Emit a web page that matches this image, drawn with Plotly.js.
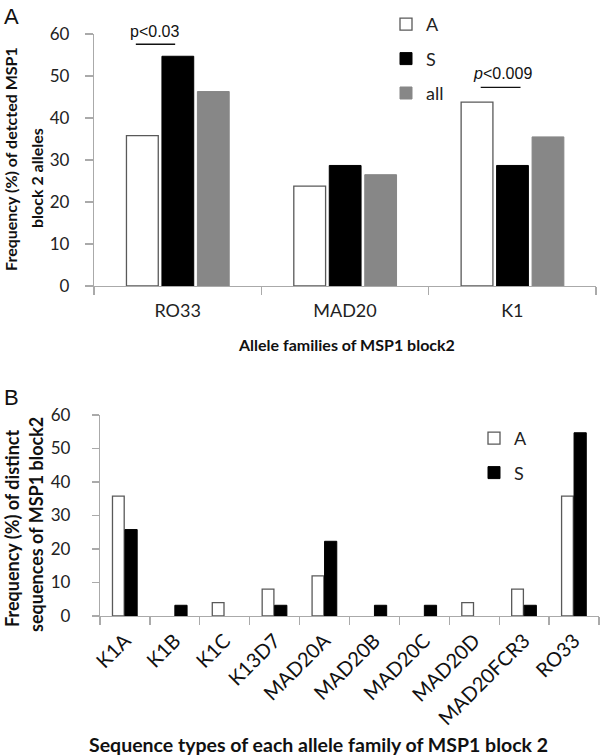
<!DOCTYPE html>
<html>
<head>
<meta charset="utf-8">
<script src="https://cdn.plot.ly/plotly-3.0.1.min.js"></script>
<style>html,body{margin:0;padding:0;background:#fff;}#chart{width:600px;height:756px;}</style>
</head>
<body>
<div id="chart"></div>
<script>
// Panel A data
const familiesA = ["RO33", "MAD20", "K1"];
const valuesA_A = [35.8, 23.8, 43.8];
const valuesA_S = [54.7, 28.7, 28.7];
const valuesA_all = [46.3, 26.5, 35.5];

// Panel B data
const typesB = ["K1A", "K1B", "K1C", "K13D7", "MAD20A", "MAD20B", "MAD20C", "MAD20D", "MAD20FCR3", "RO33"];
const valuesB_A = [35.8, 0, 4, 8, 12, 0, 0, 4, 8, 35.8];
const valuesB_S = [25.8, 3.2, 0, 3.2, 22.3, 3.2, 3.2, 0, 3.2, 54.7];

const yTicks = [0, 10, 20, 30, 40, 50, 60];

const FONT = "Lato, 'Open Sans', sans-serif";
const ARIAL = "'Liberation Sans', Arial, sans-serif";
const lineCol = "#595959";
const axisCol = "#aaaaaa";
const noZero = arr => arr.map(v => (v === 0 ? null : v));

const traces = [
  {type: "bar", name: "A", x: familiesA, y: valuesA_A, xaxis: "x", yaxis: "y", width: 0.19, offset: -0.306,
   marker: {color: "#fff", line: {color: lineCol, width: 1.3}}, legend: "legend", legendgroup: "a1"},
  {type: "bar", name: "S", x: familiesA, y: valuesA_S, xaxis: "x", yaxis: "y", width: 0.19, offset: -0.094,
   marker: {color: "#000", line: {color: "#000", width: 1}}, legend: "legend", legendgroup: "a2"},
  {type: "bar", name: "all", x: familiesA, y: valuesA_all, xaxis: "x", yaxis: "y", width: 0.19, offset: 0.118,
   marker: {color: "#878787", line: {color: "#878787", width: 1}}, legend: "legend", legendgroup: "a3"},
  {type: "bar", name: "A", x: typesB, y: noZero(valuesB_A), xaxis: "x2", yaxis: "y2", width: 0.235, offset: -0.25,
   marker: {color: "#fff", line: {color: lineCol, width: 1.3}}, legend: "legend2", legendgroup: "b1"},
  {type: "bar", name: "S", x: typesB, y: noZero(valuesB_S), xaxis: "x2", yaxis: "y2", width: 0.245, offset: 0,
   marker: {color: "#000", line: {color: "#000", width: 1}}, legend: "legend2", legendgroup: "b2"}
];

const axCommon = {
  showgrid: false, zeroline: false, showline: true, linecolor: axisCol, linewidth: 1.2,
  ticks: "outside", tickcolor: axisCol, tickwidth: 1.2
};
const titleFont = (s) => ({family: FONT, size: s, color: "#111"});

const layout = {
  width: 600, height: 756,
  margin: {l: 0, r: 0, t: 0, b: 0},
  paper_bgcolor: "#fff", plot_bgcolor: "#fff",
  font: {family: FONT, color: "#222"},
  barmode: "group",
  showlegend: true,
  xaxis: Object.assign({}, axCommon, {
    domain: [94/600, 596/600], anchor: "y", tickson: "boundaries", ticklen: 8, ticklabelstandoff: 8,
    tickfont: {family: FONT, size: 18, color: "#222"}
  }),
  yaxis: Object.assign({}, axCommon, {
    domain: [1 - 286/756, 1 - 34/756], anchor: "x", range: [0, 60], tickvals: yTicks, ticklen: 8, ticklabelstandoff: 12,
    tickfont: {family: FONT, size: 17, color: "#222"}
  }),
  xaxis2: Object.assign({}, axCommon, {
    domain: [100/600, 599/600], anchor: "y2", tickson: "boundaries", ticklen: 8, tickangle: -45, ticklabelstandoff: 4,
    tickfont: {family: FONT, size: 20, color: "#111"}
  }),
  yaxis2: Object.assign({}, axCommon, {
    domain: [1 - 616/756, 1 - 415/756], anchor: "x2", range: [0, 60], tickvals: yTicks, ticklen: 7, ticklabelstandoff: 18,
    tickfont: {family: FONT, size: 17, color: "#222"}
  }),
  legend: {x: 386/600, y: 1 - 6/756, xanchor: "left", yanchor: "top", bgcolor: "rgba(0,0,0,0)",
    font: {family: FONT, size: 18, color: "#222"}, tracegroupgap: 8, itemwidth: 30},
  legend2: {x: 474/600, y: 1 - 420/756, xanchor: "left", yanchor: "top", bgcolor: "rgba(0,0,0,0)",
    font: {family: FONT, size: 18, color: "#222"}, tracegroupgap: 8, itemwidth: 30},
  annotations: [
    {text: "A", xref: "paper", yref: "paper", x: 2/600, y: 1 - 2/756, xanchor: "left", yanchor: "top", showarrow: false,
     font: {family: ARIAL, size: 22, color: "#111"}},
    {text: "B", xref: "paper", yref: "paper", x: 2/600, y: 1 - 383/756, xanchor: "left", yanchor: "top", showarrow: false,
     font: {family: ARIAL, size: 22, color: "#111"}},
    {text: "p<0.03", xref: "x", yref: "paper", x: -0.137, y: 1 - 31/756, xanchor: "center", yanchor: "middle", showarrow: false,
     font: {family: ARIAL, size: 16, color: "#111"}},
    {text: "<i>p</i><0.009", xref: "x", yref: "y", x: 1.94, y: 50.7, xanchor: "center", yanchor: "middle", showarrow: false,
     font: {family: ARIAL, size: 16, color: "#111"}},
    // axis titles
    {text: "<b>Frequency (%) of detcted MSP1</b>", xref: "paper", yref: "paper", x: 10/600, y: 1 - 159/756,
     xanchor: "center", yanchor: "middle", textangle: -90, showarrow: false, font: titleFont(16)},
    {text: "<b>block 2 alleles</b>", xref: "paper", yref: "paper", x: 36/600, y: 1 - 178/756,
     xanchor: "center", yanchor: "middle", textangle: -90, showarrow: false, font: titleFont(16)},
    {text: "<b>Allele families of MSP1 block2</b>", xref: "paper", yref: "paper", x: 346/600, y: 1 - 345/756,
     xanchor: "center", yanchor: "middle", showarrow: false, font: titleFont(16)},
    {text: "<b>Frequency (%) of distinct</b>", xref: "paper", yref: "paper", x: 12/600, y: 1 - 529/756,
     xanchor: "center", yanchor: "middle", textangle: -90, showarrow: false, font: titleFont(18)},
    {text: "<b>sequences of MSP1 block2</b>", xref: "paper", yref: "paper", x: 36/600, y: 1 - 525/756,
     xanchor: "center", yanchor: "middle", textangle: -90, showarrow: false, font: titleFont(18)},
    {text: "<b>Sequence types of each allele family of MSP1 block 2</b>", xref: "paper", yref: "paper", x: 318/600, y: 1 - 744/756,
     xanchor: "center", yanchor: "middle", showarrow: false, font: titleFont(19.5)}
  ],
  shapes: [
    {type: "line", xref: "x", yref: "y", x0: -0.25, x1: -0.015, y0: 57.55, y1: 57.55, line: {color: "#111", width: 1.4}},
    {type: "line", xref: "x", yref: "y", x0: 1.811, x1: 2.049, y0: 47.3, y1: 47.3, line: {color: "#111", width: 1.4}}
  ]
};

Plotly.newPlot("chart", traces, layout, {displayModeBar: false, staticPlot: true});
</script>
</body>
</html>
